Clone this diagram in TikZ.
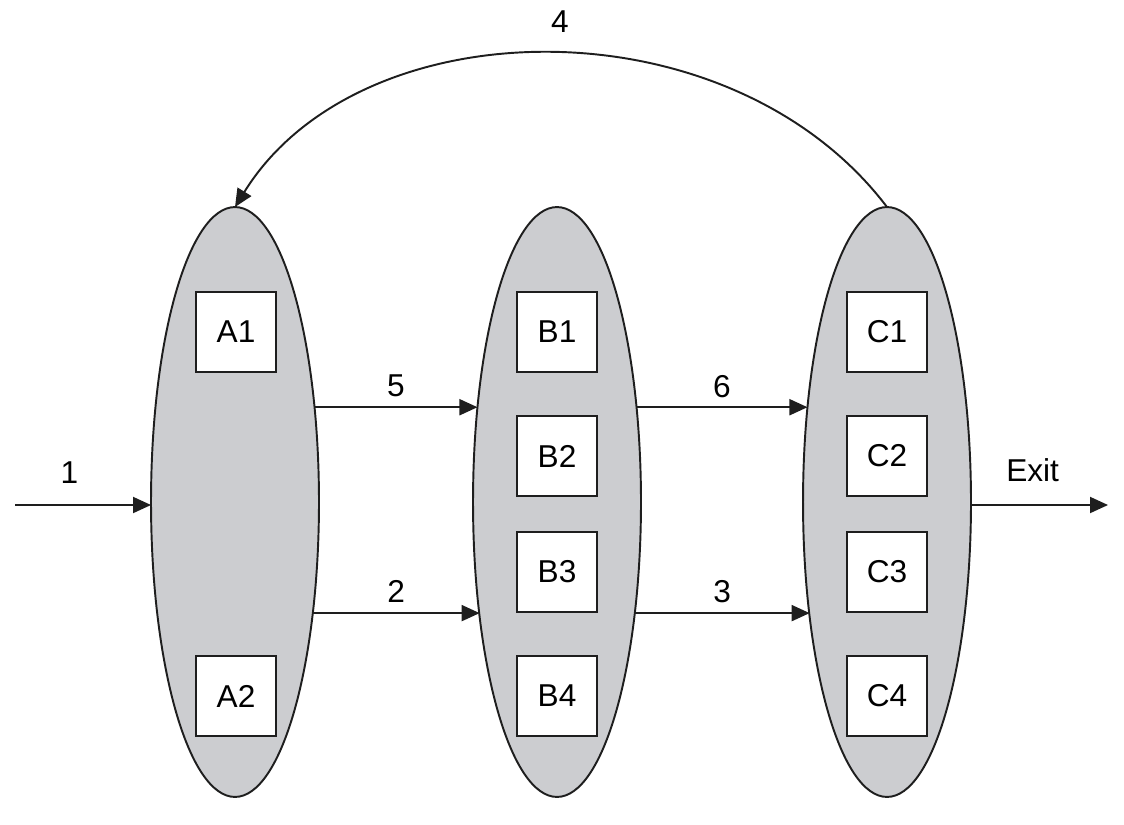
\documentclass[tikz,border=0pt]{standalone}
\usepackage{fontspec}
\setmainfont{Liberation Sans}
\usetikzlibrary{shapes.geometric,arrows.meta}
\definecolor{fillgray}{RGB}{204,205,208}
\definecolor{ink}{RGB}{30,30,30}
\begin{document}
\begin{tikzpicture}[x=0.02cm,y=-0.02cm,
  group/.style={draw=ink,line width=1.1pt,fill=fillgray,ellipse,minimum width=3.36cm,minimum height=11.8cm,inner sep=0pt,outer sep=0pt},
  item/.style={draw=ink,line width=1.1pt,fill=white,minimum size=1.6cm,inner sep=0pt,font=\fontsize{18}{20}\selectfont},
  lbl/.style={font=\fontsize{18}{20}\selectfont,inner sep=0pt},
  conn/.style={draw=ink,line width=1.1pt,-{Triangle[length=0.36cm,width=0.32cm]}}]
\useasboundingbox (0,0) rectangle (1124,824);
% groups
\node[group] (A) at (235,502) {};
\node[group] (B) at (557,502) {};
\node[group] (C) at (887,502) {};
% items
\node[item] (A1) at (236,332) {A1};
\node[item] (A2) at (236,696) {A2};
\node[item] (B1) at (557,332) {B1};
\node[item] (B2) at (557,456) {B2};
\node[item] (B3) at (557,572) {B3};
\node[item] (B4) at (557,696) {B4};
\node[item] (C1) at (887,332) {C1};
\node[item] (C2) at (887,456) {C2};
\node[item] (C3) at (887,572) {C3};
\node[item] (C4) at (887,696) {C4};
% free ends
\coordinate (in) at (15,505);
\coordinate (out) at (1108,505);
% connectors
\draw[conn] (in) -- node[lbl,pos=0.4,yshift=0.64cm]{1} (in -| A.west);
\draw[conn] (A.50) -- node[lbl,midway,yshift=0.42cm]{5} (A.50 -| B.130);
\draw[conn] (A.-55.8) -- node[lbl,midway,yshift=0.44cm]{2} (A.-55.8 -| B.-124.2);
\draw[conn] (B.50) -- node[lbl,midway,yshift=0.42cm]{6} (B.50 -| C.130);
\draw[conn] (B.-55.8) -- node[lbl,midway,yshift=0.44cm]{3} (B.-55.8 -| C.-124.2);
\draw[conn] (out -| C.east) -- node[lbl,pos=0.45,yshift=0.7cm]{Exit} (out);
\draw[conn] (C.north) .. controls (730,0) and (360,5) .. (A.north);
\node[lbl] (L4) at (560,22) {4};
\end{tikzpicture}
\end{document}
